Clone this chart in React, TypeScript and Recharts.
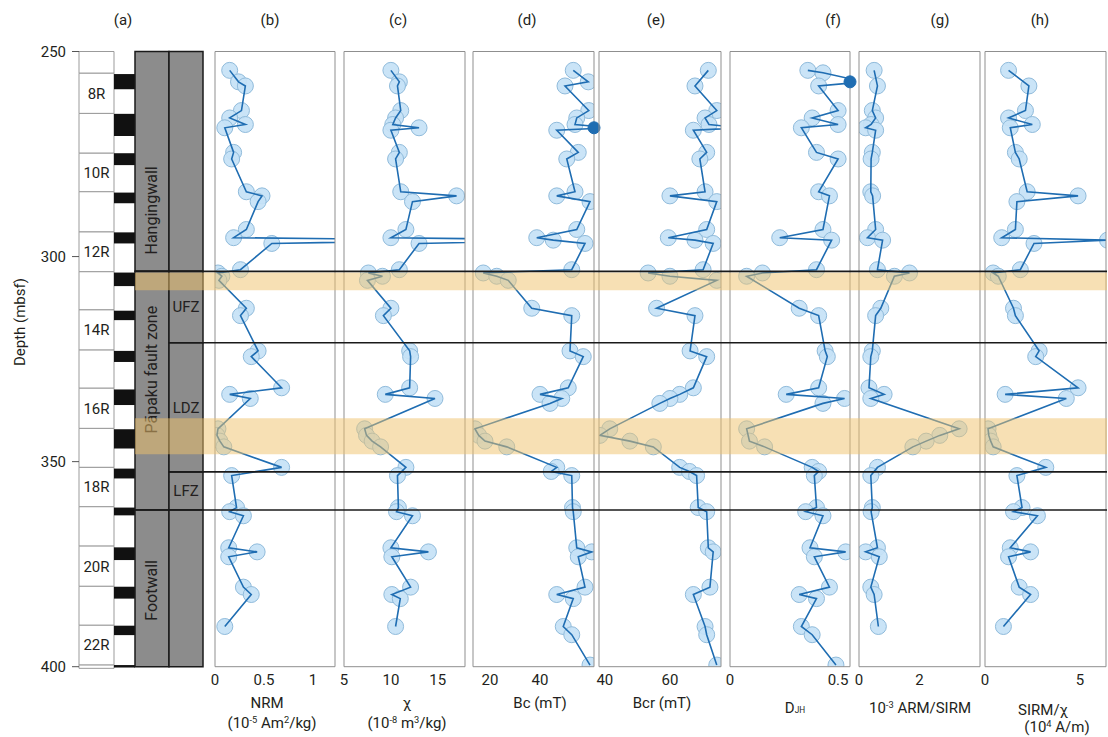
import { ComposedChart, Line, XAxis, YAxis, ReferenceArea, ReferenceLine } from "recharts";
import type { ReactNode } from "react";

const FONT = "Roboto, 'Noto Sans', 'DejaVu Sans', sans-serif";
const INK = "#231f20";
const FRAME = "#8f8f8f";
const LINE = "#1f6db2";

// sample depths (mbsf), shared by every log
const depth = [
  254.6, 255.2, 257.4, 258.4, 264.4, 266.2, 267.8, 268.6, 269.2, 274.6,
  276.2, 284.2, 285.2, 286.6, 293.4, 295.4, 296.0, 296.8, 303.2, 304.0,
  304.8, 305.8, 312.6, 314.4, 323.0, 324.4, 332.0, 333.6, 334.6, 335.8,
  342.0, 343.6, 345.0, 346.4, 351.4, 352.4, 353.4, 361.2, 362.2, 363.2,
  371.0, 372.0, 373.2, 380.6, 382.4, 383.4, 390.2, 392.2, 399.6,
];

const nrm = [
  0.15, null, 0.24, 0.31, 0.27, 0.15, 0.31, 0.10, null, 0.19,
  0.17, 0.32, 0.48, 0.44, 0.32, 0.19, 2.6, 0.58, 0.26, 0.03,
  0.07, 0.04, 0.32, 0.26, 0.44, 0.37, 0.68, 0.15, 0.36, null,
  0.03, 0.02, 0.05, 0.09, 0.68, null, 0.17, 0.22, 0.15, 0.29,
  0.14, 0.43, 0.14, 0.29, 0.37, null, 0.10, null, null,
];

const chi = [
  10.0, null, 10.9, 10.7, 11.05, 10.5, 10.2, 13.0, 10.0, 10.9,
  10.5, 11.05, 17.0, 12.3, 11.6, 10.0, 30, 13.0, 10.9, 7.6,
  9.1, 7.5, 10.0, 9.2, 12.0, 12.1, 12.0, 9.4, 14.7, null,
  7.2, 7.4, 8.0, 8.9, 11.6, null, 10.7, 10.8, 10.6, 12.3,
  10.0, 14.0, 10.1, 12.1, 10.1, 11.0, 10.5, null, null,
];

const bc = [
  53.3, null, 59.3, 50.0, 59.5, 54.7, 54.0, 68, 46.7, 55.3,
  50.7, 54.0, 46.7, 60.0, 54.7, 38.7, 45.3, 58.0, 52.7, 17.3,
  22.7, 27.3, 36.7, 52.7, 52.0, 57.3, 51.3, 40.0, 48.7, 44.0,
  14.0, 15.5, 18.0, 26.7, 46.7, 44.5, 52.7, 53.0, 53.3, null,
  54.7, 60.7, 55.3, 58.0, 46.7, 53.3, 49.3, 52.7, 60.0,
];

const bcr = [
  71.8, null, null, 67.7, 74.4, 70.8, 72.0, 82, 67.2, 71.3,
  69.2, 70.8, 60.0, 74.4, 71.3, 59.5, 67.7, 73.3, 70.2, 53.3,
  60.0, 74.4, 55.9, 67.7, 66.2, 71.3, 67.2, 63.0, 60.0, 56.9,
  41.5, 38.5, 47.7, 54.9, 63.0, 66.0, 68.2, 68.7, 71.3, null,
  71.8, 73.3, null, 72.3, 67.2, null, 70.8, 71.3, 74.4,
];

const djh = [
  0.36, 0.43, 0.62, 0.41, 0.50, 0.38, 0.50, 0.33, null, 0.40,
  0.50, 0.41, 0.46, null, 0.43, 0.23, 0.47, null, 0.40, 0.15,
  0.077, null, 0.32, 0.41, 0.44, 0.45, 0.41, 0.26, 0.53, 0.43,
  0.077, null, 0.09, 0.16, 0.38, 0.41, 0.39, 0.40, 0.35, 0.43,
  0.37, 0.535, 0.39, 0.46, 0.32, 0.40, 0.33, 0.38, 0.49,
];

const armSirm = [
  0.50, null, null, 0.61, 0.44, 0.55, 0.40, 0.22, 0.55, 0.44,
  0.40, 0.39, 0.45, null, 0.55, 0.28, 0.78, null, 0.61, 1.67,
  1.17, null, 0.72, 0.55, 0.44, 0.39, 0.33, 0.83, 0.39, null,
  3.31, 2.67, 2.22, 1.78, 0.61, null, 0.39, 0.44, 0.40, null,
  0.61, 0.22, 0.67, 0.39, 0.50, null, 0.64, null, null,
];

const sirmChi = [
  1.24, null, null, 2.31, 2.13, 1.24, 2.49, 1.33, null, 1.6,
  1.8, 2.22, 4.9, 1.68, 1.6, 0.88, 6.45, 2.58, 1.86, 0.43,
  0.7, null, 1.5, 1.6, 2.85, 2.67, 4.9, 1.06, 4.28, null,
  0.16, 0.2, 0.3, 0.43, 3.2, null, 1.68, 1.95, 1.5, 2.76,
  1.33, 2.4, 1.24, 1.8, 2.4, null, 0.97, null, null,
];

// drilled cores (mbsf)
const coreNames = ["7R", "8R", "9R", "10R", "11R", "12R", "13R", "14R", "15R", "16R", "17R", "18R", "19R", "20R", "21R", "22R", "23R"];
const coreTops = [250, 255.3, 265.1, 274.8, 284.2, 294.0, 303.7, 313.0, 322.8, 332.1, 341.9, 351.4, 361.0, 370.6, 380.4, 389.9, 399.6];
const coreBases = [255.3, 265.1, 274.8, 284.2, 294.0, 303.7, 313.0, 322.8, 332.1, 341.9, 351.4, 361.0, 370.6, 380.4, 389.9, 399.6, 400.4];

// recovered core, drawn black
const recoveredTops = [255.5, 265.2, 274.8, 284.4, 294.1, 303.9, 313.2, 323.0, 332.4, 342.1, 351.7, 361.2, 370.9, 380.5, 390.0, 399.6];
const recoveredBases = [259.2, 270.6, 277.7, 287.0, 296.8, 307.2, 315.5, 325.7, 336.2, 346.8, 354.1, 363.1, 374.0, 383.4, 392.3, 400.2];

const zoneNames = ["Hangingwall", "Pāpaku fault zone", "Footwall"];
const zoneTops = [250, 303.6, 361.8];
const zoneBases = [303.6, 361.8, 400];

const subZoneNames = ["", "UFZ", "LDZ", "LFZ", ""];
const subZoneTops = [250, 303.6, 321.0, 352.5, 361.8];
const subZoneBases = [303.6, 321.0, 352.5, 361.8, 400];

// highlighted intervals
const bandTops = [303.9, 339.4];
const bandBases = [308.2, 348.2];

// tick labels
const depthLabels = [250, 300, 350, 400];
const nrmTicks = [0, 0.5, 1];
const chiTicks = [5, 10, 15];
const bcTicks = [20, 40];
const bcrTicks = [40, 60];
const djhTicks = [0, 0.5];
const armTicks = [0, 2];
const sirmChiTicks = [0, 5];

// page geometry
const CHART_H = 737;
const PLOT_TOP = 51.5;
const PLOT_BOTTOM = 666.7;
const AXIS_H = 30;
const PAD = 12;
const DEPTH_DOMAIN: [number, number] = [250, 400];
const COL = { core: [0, 35], rec: [35, 56], zone: [56, 90], sub: [90, 124] };
const ZONE_X = 135;
const SUB_X = 169;
const END_X = 1107;

const steps = (lo: number, hi: number, step: number) => {
  const out: number[] = [];
  for (let v = Math.ceil(lo / step - 1e-9) * step; v <= hi + 1e-9; v += step) out.push(+v.toFixed(4));
  return out;
};
const depthTicks = steps(250, 400, 10);

const rows = depth.map((d) => ({ depth: d }));

type PanelSpec = {
  id: string;
  values: (number | null)[];
  left: number;
  right: number;
  domain: [number, number];
  ticks: number[];
  minor: number;
  flag?: boolean;
};

const panels: PanelSpec[] = [
  { id: "nrm", values: nrm, left: 215, right: 335, domain: [0, 1.225], ticks: nrmTicks, minor: 0.1 },
  { id: "chi", values: chi, left: 344, right: 465, domain: [5, 17.9], ticks: chiTicks, minor: 1 },
  { id: "bc", values: bc, left: 473, right: 594, domain: [13.2, 61.6], ticks: bcTicks, minor: 5, flag: true },
  { id: "bcr", values: bcr, left: 599, right: 721, domain: [38.2, 75.7], ticks: bcrTicks, minor: 5 },
  { id: "djh", values: djh, left: 730, right: 850, domain: [0, 0.555], ticks: djhTicks, minor: 0.05, flag: true },
  { id: "arm", values: armSirm, left: 859, right: 980, domain: [0, 4], ticks: armTicks, minor: 0.5 },
  { id: "sirmchi", values: sirmChi, left: 985, right: 1106, domain: [0, 6.37], ticks: sirmChiTicks, minor: 1 },
];

const layer = { position: "absolute" as const, left: 0, top: 0 };

function LogPanel({ p }: { p: PanelSpec }) {
  const data = depth.map((d, i) => {
    const v = p.values[i];
    // values past the axis limit get a solid marker pinned to the frame
    const flag = p.flag && v != null && v > p.domain[1] ? p.domain[1] : null;
    return { depth: d, v, flag };
  });
  const minor = steps(p.domain[0], p.domain[1], p.minor);
  const axis = { type: "number" as const, domain: p.domain, allowDataOverflow: true };
  const width = p.right - p.left + 2 * PAD;
  return (
    <div style={{ position: "absolute", left: p.left - PAD, top: 0 }}>
      {/* sample circles sit underneath the connecting line */}
      <div style={layer}>
        <ComposedChart
          layout="vertical"
          width={width}
          height={CHART_H}
          data={data}
          margin={{ top: PLOT_TOP, bottom: CHART_H - PLOT_BOTTOM, left: PAD, right: PAD }}
        >
          <XAxis xAxisId="v" {...axis} hide />
          <YAxis yAxisId="d" type="number" dataKey="depth" domain={DEPTH_DOMAIN} allowDataOverflow hide />
          <Line
            xAxisId="v"
            yAxisId="d"
            dataKey="v"
            stroke="none"
            connectNulls
            dot={{ r: 8, fill: "#c6e2f6", fillOpacity: 0.92, stroke: "#90bbdb", strokeWidth: 1 }}
            activeDot={false}
            isAnimationActive={false}
          />
        </ComposedChart>
      </div>
      <div style={layer}>
        <ComposedChart
          layout="vertical"
          width={width}
          height={CHART_H}
          data={data}
          margin={{ top: PLOT_TOP, bottom: CHART_H - PLOT_BOTTOM - AXIS_H, left: PAD, right: PAD }}
        >
          <XAxis
            xAxisId="v"
            orientation="bottom"
            {...axis}
            height={AXIS_H}
            ticks={p.ticks}
            interval={0}
            tickLine={false}
            axisLine={{ stroke: FRAME }}
            tick={{ fontSize: 15, fill: INK, fontFamily: FONT }}
          />
          <XAxis xAxisId="bm" orientation="bottom" mirror {...axis} ticks={minor} interval={0} tick={false} tickSize={4} axisLine={false} tickLine={{ stroke: FRAME }} />
          <XAxis xAxisId="tm" orientation="top" mirror {...axis} ticks={minor} interval={0} tick={false} tickSize={4} axisLine={{ stroke: FRAME }} tickLine={{ stroke: FRAME }} />
          <YAxis
            yAxisId="d"
            orientation="left"
            mirror
            type="number"
            dataKey="depth"
            domain={DEPTH_DOMAIN}
            allowDataOverflow
            ticks={depthTicks}
            interval={0}
            tick={false}
            tickSize={5}
            axisLine={{ stroke: FRAME }}
            tickLine={{ stroke: FRAME }}
          />
          <YAxis
            yAxisId="r"
            orientation="right"
            mirror
            type="number"
            domain={DEPTH_DOMAIN}
            allowDataOverflow
            ticks={depthTicks}
            interval={0}
            tick={false}
            tickSize={5}
            axisLine={{ stroke: FRAME }}
            tickLine={{ stroke: FRAME }}
          />
          <Line
            xAxisId="v"
            yAxisId="d"
            dataKey="v"
            stroke={LINE}
            strokeWidth={1.6}
            dot={false}
            activeDot={false}
            connectNulls
            isAnimationActive={false}
          />
          {p.flag && (
            <Line
              xAxisId="v"
              yAxisId="d"
              dataKey="flag"
              stroke="none"
              dot={{ r: 6, fill: LINE, stroke: LINE, clipDot: false }}
              activeDot={false}
              isAnimationActive={false}
            />
          )}
        </ComposedChart>
      </div>
    </div>
  );
}

const rotatedLabel = (text: string, shift: number) => (props: any) => {
  const vb = props.viewBox ?? {};
  const cx = vb.x + vb.width / 2;
  const cy = vb.y + vb.height / 2 + shift;
  return (
    <text
      x={cx}
      y={cy}
      transform={`rotate(-90 ${cx} ${cy})`}
      textAnchor="middle"
      dominantBaseline="central"
      fontSize={16}
      fontFamily={FONT}
      fill={INK}
    >
      {text}
    </text>
  );
};

// label offsets (px) along each zone column
const zoneLabelShift = [49, -21, 2];

function CoreColumn() {
  const labelStyle = { fontSize: 15, fill: INK, fontFamily: FONT };
  return (
    <div style={layer}>
      <ComposedChart
        layout="vertical"
        width={215}
        height={CHART_H}
        data={rows}
        margin={{ top: PLOT_TOP, bottom: CHART_H - PLOT_BOTTOM, left: 34, right: 12 }}
      >
        <XAxis xAxisId="col" type="number" domain={[0, 124]} hide allowDataOverflow />
        <YAxis
          yAxisId="d"
          type="number"
          dataKey="depth"
          domain={DEPTH_DOMAIN}
          allowDataOverflow
          ticks={depthLabels}
          interval={0}
          width={45}
          tickSize={7}
          tickMargin={6}
          axisLine={false}
          tickLine={{ stroke: "#555" }}
          tick={labelStyle}
        />
        {coreTops.map((top, i) => (
          <ReferenceArea
            key={coreNames[i]}
            xAxisId="col"
            yAxisId="d"
            x1={COL.core[0]}
            x2={COL.core[1]}
            y1={top}
            y2={coreBases[i]}
            fill="#fff"
            fillOpacity={1}
            stroke="#9b9b9b"
            strokeWidth={1}
            ifOverflow="visible"
            label={parseInt(coreNames[i], 10) % 2 === 0 ? { value: coreNames[i], position: "center", ...labelStyle } : undefined}
          />
        ))}
        {recoveredTops.map((top, i) => (
          <ReferenceArea
            key={`rec-${top}`}
            xAxisId="col"
            yAxisId="d"
            x1={COL.rec[0]}
            x2={COL.rec[1]}
            y1={top}
            y2={recoveredBases[i]}
            fill="#111"
            fillOpacity={1}
            ifOverflow="visible"
          />
        ))}
        {zoneTops.map((top, i) => (
          <ReferenceArea
            key={zoneNames[i]}
            xAxisId="col"
            yAxisId="d"
            x1={COL.zone[0]}
            x2={COL.zone[1]}
            y1={top}
            y2={zoneBases[i]}
            fill="#8c8c8c"
            fillOpacity={1}
            stroke="#1a1a1a"
            strokeWidth={1.5}
            ifOverflow="visible"
            label={rotatedLabel(zoneNames[i], zoneLabelShift[i])}
          />
        ))}
        {subZoneTops.map((top, i) => (
          <ReferenceArea
            key={`sub-${top}`}
            xAxisId="col"
            yAxisId="d"
            x1={COL.sub[0]}
            x2={COL.sub[1]}
            y1={top}
            y2={subZoneBases[i]}
            fill="#8c8c8c"
            fillOpacity={1}
            stroke="#1a1a1a"
            strokeWidth={1.5}
            ifOverflow="visible"
            label={subZoneNames[i] ? { value: subZoneNames[i], position: "center", ...labelStyle } : undefined}
          />
        ))}
      </ComposedChart>
    </div>
  );
}

function ZoneOverlay() {
  const inner = subZoneTops.filter((d) => d > DEPTH_DOMAIN[0] && !zoneTops.includes(d));
  const outer = zoneTops.filter((d) => d > DEPTH_DOMAIN[0]);
  const lines = [...outer.map((d) => ({ d, x: ZONE_X })), ...inner.map((d) => ({ d, x: SUB_X }))];
  return (
    <div style={{ ...layer, pointerEvents: "none" }}>
      <ComposedChart
        layout="vertical"
        width={1108}
        height={CHART_H}
        data={rows}
        margin={{ top: PLOT_TOP, bottom: CHART_H - PLOT_BOTTOM, left: 0, right: 0 }}
      >
        <XAxis xAxisId="px" type="number" domain={[0, 1108]} hide allowDataOverflow />
        <YAxis yAxisId="d" type="number" dataKey="depth" domain={DEPTH_DOMAIN} hide allowDataOverflow />
        {bandTops.map((top, i) => (
          <ReferenceArea
            key={`band-${top}`}
            xAxisId="px"
            yAxisId="d"
            x1={ZONE_X}
            x2={END_X}
            y1={top}
            y2={bandBases[i]}
            fill="#efc169"
            fillOpacity={0.5}
            ifOverflow="visible"
          />
        ))}
        {lines.map(({ d, x }) => (
          <ReferenceLine
            key={`line-${d}`}
            xAxisId="px"
            yAxisId="d"
            segment={[{ x, y: d }, { x: END_X, y: d }]}
            stroke="#1a1a1a"
            strokeWidth={1.6}
            ifOverflow="visible"
          />
        ))}
      </ComposedChart>
    </div>
  );
}

const Txt = ({ x, y, children, size = 15, rotate = 0 }: { x: number; y: number; children: ReactNode; size?: number; rotate?: number }) => (
  <div
    style={{
      position: "absolute",
      left: x,
      top: y,
      transform: `translate(-50%, -50%) rotate(${rotate}deg)`,
      whiteSpace: "nowrap",
      fontSize: size,
      fontFamily: FONT,
      color: INK,
      lineHeight: 1,
    }}
  >
    {children}
  </div>
);

const Sup = ({ children }: { children: ReactNode }) => (
  <span style={{ fontSize: "0.62em", position: "relative", top: "-0.5em" }}>{children}</span>
);

const panelLetters = ["(a)", "(b)", "(c)", "(d)", "(e)", "(f)", "(g)", "(h)"];
const letterX = [123, 270, 398, 527, 656, 833, 940, 1040];

export default function App() {
  return (
    <div style={{ position: "absolute", left: 0, top: 0, width: 1108, height: 737, background: "#fff", overflow: "hidden" }}>
      <CoreColumn />
      {panels.map((p) => (
        <LogPanel key={p.id} p={p} />
      ))}
      <ZoneOverlay />

      {panelLetters.map((t, i) => (
        <Txt key={t} x={letterX[i]} y={20}>
          {t}
        </Txt>
      ))}
      <Txt x={20} y={322} rotate={-90}>
        Depth (mbsf)
      </Txt>

      <Txt x={267} y={703}>NRM</Txt>
      <Txt x={272} y={723}>
        (10<Sup>-5</Sup> Am<Sup>2</Sup>/kg)
      </Txt>
      <Txt x={407} y={703}>χ</Txt>
      <Txt x={407} y={723}>
        (10<Sup>-8</Sup> m<Sup>3</Sup>/kg)
      </Txt>
      <Txt x={540} y={703}>Bc (mT)</Txt>
      <Txt x={662} y={703}>Bcr (mT)</Txt>
      <Txt x={795} y={708}>
        D<span style={{ fontSize: "0.55em" }}>JH</span>
      </Txt>
      <Txt x={920} y={708}>
        10<Sup>-3</Sup> ARM/SIRM
      </Txt>
      <Txt x={1043} y={710}>SIRM/χ</Txt>
      <Txt x={1057} y={727}>
        (10<Sup>4</Sup> A/m)
      </Txt>
    </div>
  );
}
